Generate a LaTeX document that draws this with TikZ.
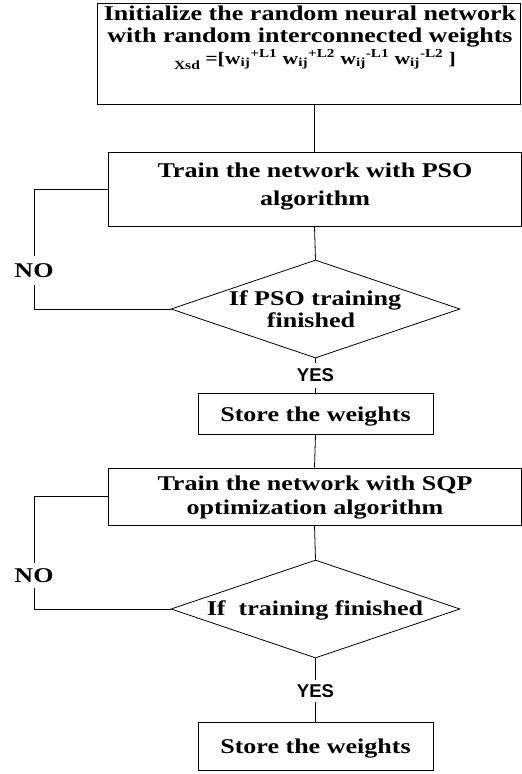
\documentclass[tikz,border=0pt]{standalone}
\usepackage{fontspec}
\setmainfont{Liberation Serif}[FakeStretch=1.24]
\newfontfamily\yesfont{Liberation Sans}
\usetikzlibrary{shapes.geometric}
\tikzset{
  box/.style={draw, line width=0.8pt, inner sep=0pt},
  dia/.style={draw, diamond, line width=0.8pt, inner sep=0pt},
  txt/.style={inner sep=0pt, anchor=base, font=\bfseries\fontsize{21}{22}\selectfont},
  yeslbl/.style={fill=white, inner sep=0pt, font=\yesfont\bfseries\fontsize{18.5}{19}\selectfont},
  nolbl/.style={fill=white, inner sep=0pt, font=\bfseries\fontsize{21}{22}\selectfont},
  conn/.style={line width=0.8pt}
}
\begin{document}
\begin{tikzpicture}[x=1pt,y=-1pt]
\useasboundingbox[fill=white] (0,0) rectangle (522,774);
% boxes
\node[box, minimum width=423pt, minimum height=101pt] (init) at (308.5,53.5) {};
\node[txt] (t1) at (310,20) {Initialize the random neural network};
\node[txt] (t2) at (310,42) {with random interconnected weights};
\node[txt, font=\bfseries\fontsize{17.5}{19}\selectfont] (t3) at (315,64)
  {\raisebox{-0.3em}{\fontsize{12.5}{13}\selectfont Xsd} =[w\textsubscript{ij}\textsuperscript{+L1} w\textsubscript{ij}\textsuperscript{+L2} w\textsubscript{ij}\textsuperscript{-L1} w\textsubscript{ij}\textsuperscript{-L2} ]};

\node[box, minimum width=413pt, minimum height=74pt] (pso) at (314.5,189) {};
\node[txt] (p1) at (315,177) {Train the network with PSO};
\node[txt] (p2) at (315,205) {algorithm};

\node[dia, minimum width=289pt, minimum height=98pt] (d1) at (315.5,309) {};
\node[txt] (d1a) at (315,305) {If PSO training};
\node[txt] (d1b) at (311,327) {finished};

\node[box, minimum width=235pt, minimum height=41pt] (s1) at (315.5,413.5) {};
\node[txt] (s1t) at (315.5,421) {Store the weights};

\node[box, minimum width=413pt, minimum height=57pt] (sqp) at (314.5,496.5) {};
\node[txt] (q1) at (315,490) {Train the network with SQP};
\node[txt] (q2) at (315,514) {optimization algorithm};

\node[dia, minimum width=289pt, minimum height=98pt] (d2) at (315.5,609) {};
\node[txt] (d2a) at (315,615) {If\ \ training finished};

\node[box, minimum width=235pt, minimum height=48pt] (s2) at (315.5,746) {};
\node[txt] (s2t) at (315.5,753) {Store the weights};

% NO labels
\node[nolbl, minimum height=29pt] (no1) at (34,270.5) {NO};
\node[nolbl, minimum height=25pt] (no2) at (34,575.5) {NO};

% connectors
\draw[conn] (init.south -| pso.north) -- (pso.north);
\draw[conn] (pso.south) -- (d1.north);
\draw[conn] (d1.south) -- (s1.north);
\draw[conn] (s1.south) -- (sqp.north);
\draw[conn] (sqp.south) -- (d2.north);
\draw[conn] (d2.south) -- (s2.north);
\draw[conn] (pso.west) -| (no1.north);
\draw[conn] (no1.south) |- (d1.west);
\draw[conn] (sqp.west) -| (no2.north);
\draw[conn] (no2.south) |- (d2.west);

% YES labels
\node[yeslbl, minimum height=25pt] (yes1) at (315.5,375.5) {YES};
\node[yeslbl, minimum height=22pt] (yes2) at (315.5,691) {YES};
\end{tikzpicture}
\end{document}
